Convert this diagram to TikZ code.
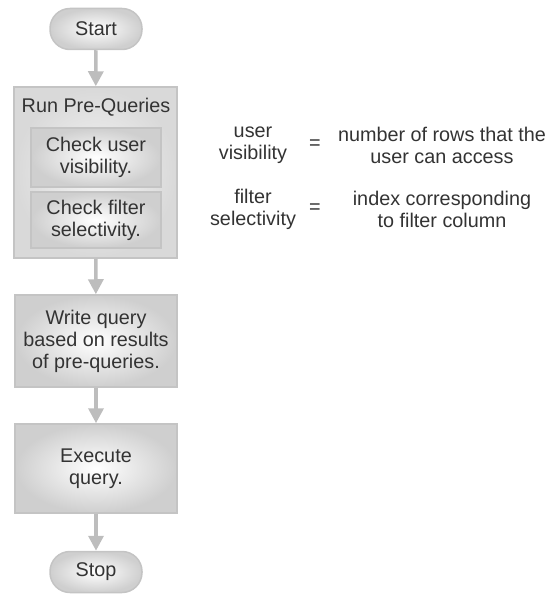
\documentclass[tikz,border=0pt]{standalone}
\usepackage{fontspec}
\setmainfont{Liberation Sans}
\usetikzlibrary{arrows.meta}

\definecolor{txtgray}{HTML}{333333}
\definecolor{edgegray}{HTML}{C4C4C4}
\definecolor{arrowgray}{HTML}{BDBDBD}

\tikzset{
	box/.style={draw=edgegray, line width=1.5pt, inner color=white, outer color=gray!38, text=txtgray, align=center, inner sep=0pt},
	pill/.style={box, rounded corners=20pt, minimum width=92pt, minimum height=41pt},
	flow/.style={draw=arrowgray, line width=3.5pt, -{Triangle[width=15pt,length=15pt]}},
	note/.style={text=txtgray, align=center, inner sep=0pt}
}

\begin{document}
\begin{tikzpicture}[x=1pt, y=-1pt, font=\fontsize{19.8}{22}\selectfont]
				      \useasboundingbox (0,0) rectangle (558,594);

				      \node[pill] (start) at (96,29) {Start};

				      \node[box, inner color=gray!8, outer color=gray!30, minimum width=163pt, minimum height=171pt] (prequeries) at (95.5,172.5) {};
				      \node[note] (pretitle) at (96,107) {Run Pre-Queries};
				      \node[box, minimum width=130pt, minimum height=59pt] (checkuser) at (96,157.5) {Check user\\visibility.};
				      \node[box, minimum width=130pt, minimum height=56pt] (checkfilter) at (96,220) {Check filter\\selectivity.};

				      \node[box, minimum width=162pt, minimum height=92pt] (writequery) at (96,341) {Write query\\based on results\\of pre-queries.};
				      \node[box, minimum width=162pt, minimum height=89pt] (execquery) at (96,468.5) {Execute\\query.};

				      \node[pill] (stop) at (96,572) {Stop};

				      \draw[flow] (start) -- (prequeries);
				      \draw[flow] (prequeries) -- (writequery);
				      \draw[flow] (writequery) -- (execquery);
				      \draw[flow] (execquery) -- (stop);

				      % legend on the right
				      \node[note] (uservis) at (253,145) {user\\visibility};
				      \node[note] (eqone) at (315,145) {=};
				      \node[note] (rowsdef) at (442,145) {number of rows that the\\user can access};

				      \node[note] (filtersel) at (253,209) {filter\\selectivity};
				      \node[note] (eqtwo) at (315,209) {=};
				      \node[note] (indexdef) at (442,209) {index corresponding\\to filter column};
			      \end{tikzpicture}
\end{document}
